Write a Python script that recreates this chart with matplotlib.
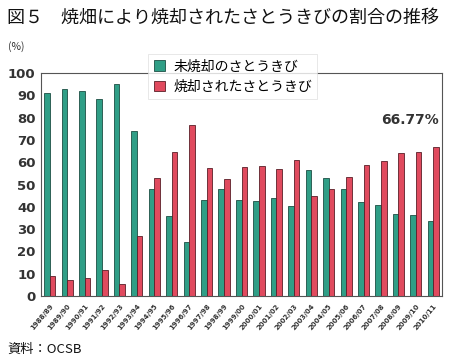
import matplotlib.pyplot as plt
import numpy as np

plt.rcParams['font.family'] = ['Noto Sans CJK JP', 'DejaVu Sans']

seasons = ['1988/89', '1989/90', '1990/91', '1991/92', '1992/93', '1993/94',
           '1994/95', '1995/96', '1996/97', '1997/98', '1998/99', '1999/00',
           '2000/01', '2001/02', '2002/03', '2003/04', '2004/05', '2005/06',
           '2006/07', '2007/08', '2008/09', '2009/10', '2010/11']
unburned = [91, 93, 92, 88.5, 95, 74, 48, 36, 24, 43, 48, 43,
            42.7, 44, 40.4, 56.3, 52.9, 47.8, 42.2, 40.8, 36.9, 36.5, 33.8]
burned = [9, 7, 8, 11.5, 5.5, 27, 53, 64.5, 76.5, 57.5, 52.5, 57.8,
          58.3, 57, 60.8, 44.8, 47.8, 53.2, 58.7, 60.5, 64, 64.4, 66.77]

green = '#2f9e86'
red = '#e04a5e'

fig = plt.figure(figsize=(4.49, 3.61), dpi=100)
ax = fig.add_axes([41 / 449, 1 - 296 / 361, 401 / 449, 223 / 361])

x = np.arange(len(seasons))
w = 0.32
ax.bar(x - w / 2, unburned, w, color=green, edgecolor='#1d4f44', linewidth=0.6,
       label='未焼却のさとうきび')
ax.bar(x + w / 2, burned, w, color=red, edgecolor='#5a1f28', linewidth=0.6,
       label='焼却されたさとうきび')

ax.set_xlim(-0.5, len(seasons) - 0.5)
ax.set_ylim(0, 100)
ax.set_yticks(range(0, 101, 10))
ax.set_yticklabels([str(v) for v in range(0, 101, 10)], fontsize=9.5,
                   fontweight='bold', color='#333333', family='DejaVu Sans')
ax.set_xticks(x)
ax.set_xticklabels(seasons, rotation=50, fontsize=5, fontweight='bold',
                   color='#333333', ha='right', rotation_mode='anchor',
                   family='DejaVu Sans')
ax.tick_params(axis='y', length=0, pad=4)
ax.tick_params(axis='x', length=0, pad=5)
for s in ax.spines.values():
    s.set_color('#555555')
    s.set_linewidth(0.8)

leg = ax.legend(loc='upper left', bbox_to_anchor=(0.267, 1.085), fontsize=10,
                frameon=True, fancybox=False, edgecolor='#dddddd',
                handlelength=0.8, handleheight=0.8, borderpad=0.4,
                labelspacing=0.45, handletextpad=0.6, borderaxespad=0)
leg.get_frame().set_linewidth(0.6)

ax.text(22.3, 79, '66.77%', ha='right', va='center', fontsize=10,
        fontweight='bold', color='#333333', family='DejaVu Sans')

fig.text(7 / 449, 1 - 18 / 361, '図５　焼畑により焼却されたさとうきびの割合の推移',
         fontsize=13, va='center', ha='left', color='#111111')
fig.text(8 / 449, 1 - 47 / 361, '(%)', fontsize=7.5, va='center', ha='left',
         color='#333333')
fig.text(7 / 449, 1 - 349 / 361, '資料：OCSB', fontsize=9.5, va='center',
         ha='left', color='#111111')

fig.savefig('out.png', dpi=100)
